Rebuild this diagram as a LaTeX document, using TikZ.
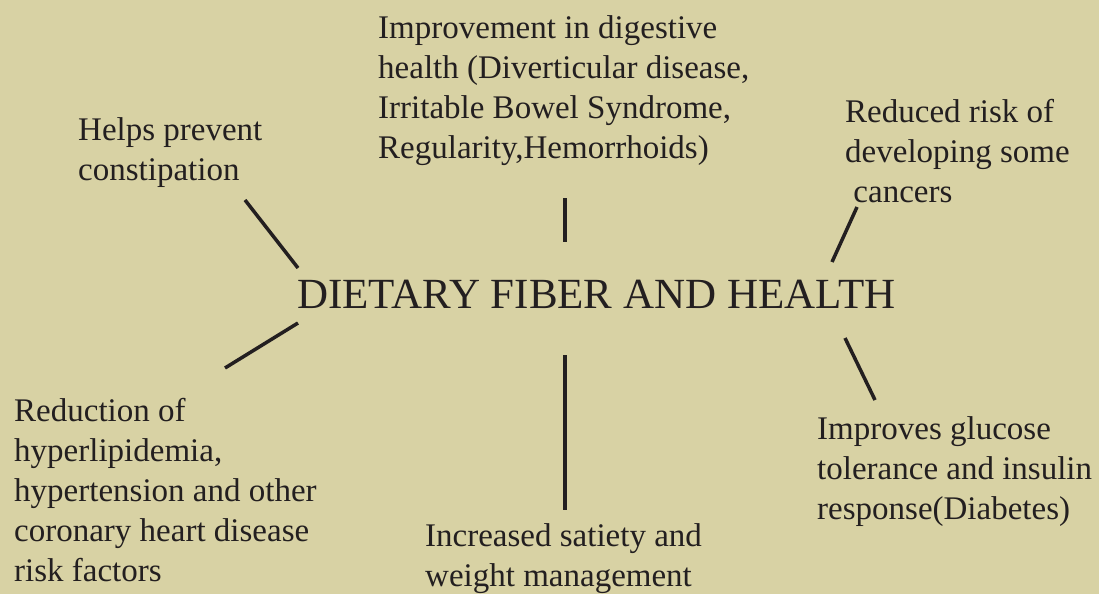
\documentclass[tikz,border=0pt]{standalone}
\usepackage{fontspec}
\setmainfont{Liberation Serif}
\usetikzlibrary{positioning}
\definecolor{paper}{RGB}{216,210,164}
\definecolor{ink}{RGB}{35,31,32}
\tikzset{
  benefit/.style={anchor=north west, inner sep=0pt, align=left, text=ink,
                  font=\fontsize{33}{40}\selectfont},
  maintitle/.style={anchor=north west, inner sep=0pt, text=ink,
                    font=\fontsize{43}{48}\selectfont},
  spoke/.style={draw=ink, line width=3.5pt},
}
\begin{document}
\begin{tikzpicture}[x=1pt, y=-1pt]
  \fill[paper] (0,0) rectangle (1099,594);
  \useasboundingbox (0,0) rectangle (1099,594);

  \node (center) [maintitle] at (297,280) {DIETARY FIBER AND HEALTH};

  \node (constip) [benefit] at (78,117) {Helps prevent\\constipation};
  \node (digest) [benefit] at (378,15) {Improvement in digestive\\health (Diverticular disease,\\Irritable Bowel Syndrome,\\Regularity,Hemorrhoids)};
  \node (cancer) [benefit] at (845,99) {Reduced risk of\\developing some\\\ cancers};
  \node (lipid) [benefit] at (14,398) {Reduction of\\hyperlipidemia,\\hypertension and other\\coronary heart disease\\risk factors};
  \node (satiety) [benefit] at (425,523) {Increased satiety and\\weight management};
  \node (glucose) [benefit] at (817,416) {Improves glucose\\tolerance and insulin\\response(Diabetes)};

  % spoke ends
  \coordinate (c1a) at (245,200); \coordinate (c1b) at (298,268);
  \coordinate (c2a) at (565,198); \coordinate (c2b) at (565,242);
  \coordinate (c3a) at (857,207); \coordinate (c3b) at (832,262);
  \coordinate (c4a) at (298,323); \coordinate (c4b) at (225,368);
  \coordinate (c5a) at (565,355); \coordinate (c5b) at (565,510);
  \coordinate (c6a) at (845,338); \coordinate (c6b) at (875,400);

  \draw[spoke] (c1a) -- (c1b);
  \draw[spoke] (c2a) -- (c2b);
  \draw[spoke] (c3a) -- (c3b);
  \draw[spoke] (c4a) -- (c4b);
  \draw[spoke] (c5a) -- (c5b);
  \draw[spoke] (c6a) -- (c6b);
\end{tikzpicture}
\end{document}
